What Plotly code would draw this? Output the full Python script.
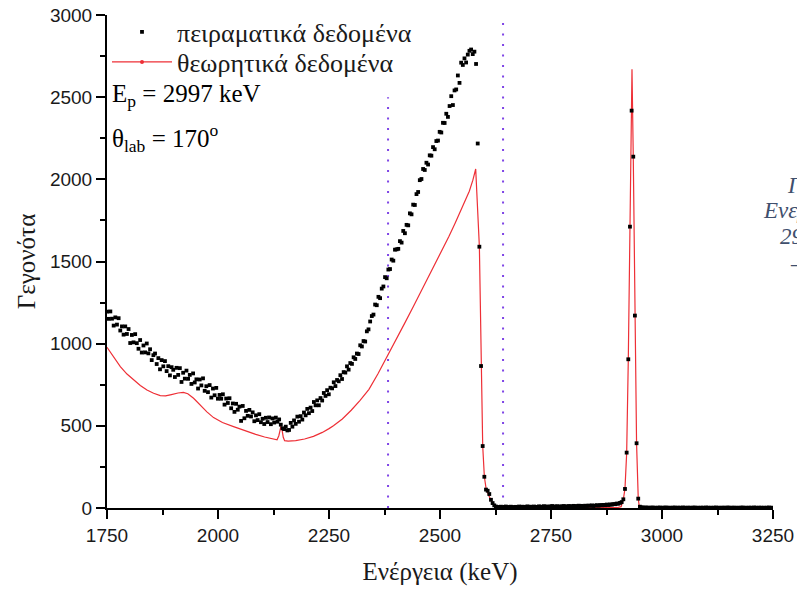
import plotly.graph_objects as go

# Measured spectrum: counts per channel, linear energy calibration
E0_KEV = 1750.1
KEV_PER_CHANNEL = 3.727

counts_exp = [
    1195, 1151, 1196, 1152, 1110, 1160, 1116, 1155, 1080, 1105,
    1055, 1105, 1059, 1089, 1004, 1053, 1008, 1058, 1003, 969,
    1022, 946, 989, 947, 1001, 941, 966, 900, 930, 940,
    876, 912, 844, 900, 862, 894, 833, 863, 807, 857,
    841, 797, 853, 810, 851, 767, 823, 787, 836, 786,
    810, 755, 819, 764, 783, 727, 782, 746, 789, 713,
    741, 705, 748, 672, 727, 686, 731, 665, 688, 665,
    692, 629, 666, 639, 668, 607, 636, 585, 634, 598,
    617, 530, 621, 546, 591, 561, 597, 557, 582, 528,
    564, 535, 571, 522, 543, 511, 549, 523, 551, 510,
    545, 520, 550, 525, 539, 507, 485, 480, 495, 472,
    475, 518, 495, 533, 512, 556, 525, 559, 538, 581,
    564, 603, 577, 611, 590, 645, 625, 655, 625, 669,
    654, 700, 682, 717, 692, 732, 728, 765, 742, 779,
    771, 808, 785, 827, 824, 862, 842, 882, 877, 917,
    907, 940, 937, 990, 983, 1016, 1013, 1075, 1087, 1135,
    1168, 1177, 1238, 1234, 1285, 1277, 1335, 1348, 1405, 1398,
    1451, 1454, 1512, 1505, 1572, 1574, 1577, 1624, 1615, 1686,
    1672, 1723, 1720, 1793, 1787, 1846, 1844, 1910, 1923, 1995,
    2002, 2063, 2057, 2101, 2090, 2146, 2144, 2196, 2183, 2233,
    2236, 2289, 2285, 2344, 2343, 2399, 2380, 2446, 2506, 2452,
    2541, 2547, 2632, 2587, 2710, 2696, 2736, 2711, 2759, 2782,
    2790, 2762, 2777, 2702,
    2218, 1590, 864, 377, 190, 112, 105, 85, 50, 30, 16, 9, 6,
    5, 8, 4, 7, 9, 6, 5, 8, 6, 4,
    7, 5, 9, 6, 8, 5, 7, 10, 6, 8,
    5, 9, 7, 6, 10, 8, 7, 11, 8, 9,
    7, 10, 12, 8, 9, 11, 7, 10, 9, 12,
    10, 8, 12, 11, 9, 13, 10, 12, 14, 11,
    13, 10, 14, 12, 15, 13, 16, 12, 15, 17,
    14, 18, 16, 19, 17, 21, 18, 22, 20, 24,
    23, 27, 26, 31, 36,
    53, 116, 337, 905, 1712, 2418, 2138, 1171, 394, 57, 8,
    4, 3, 2, 3, 2, 1, 3, 2, 2, 1,
    2, 3, 1, 2, 2, 3, 1, 2, 1, 2,
    3, 1, 2, 2, 1, 3, 2, 1, 2, 2,
    1, 2, 3, 1, 2, 1, 2, 2, 1, 3,
    2, 1, 2, 1, 2, 3, 1, 2, 1, 2,
    2, 1, 3, 2, 1, 2, 2, 1, 2, 1,
    2, 3, 1, 2, 1, 2, 2, 1, 3, 2,
    1, 2, 2, 1, 2, 1, 2, 3, 1, 2,
]
energy_exp = [E0_KEV + KEV_PER_CHANNEL * i for i in range(len(counts_exp))]

# Simulated spectrum
energy_theo = [
    1750, 1765, 1780, 1795, 1810, 1825, 1840, 1855, 1870, 1882,
    1895, 1910, 1922, 1932, 1945, 1960, 1975, 1990, 2010, 2035,
    2060, 2085, 2105, 2125, 2133, 2137, 2140, 2142, 2144, 2147,
    2150, 2158, 2175, 2195, 2215, 2235, 2250, 2260, 2280, 2300,
    2320, 2340, 2360, 2383, 2400, 2420, 2440, 2460, 2480, 2500,
    2520, 2534, 2545, 2556, 2566, 2574, 2580.4, 2588.7, 2592.5, 2596.2,
    2599.9, 2604, 2610, 2615, 2620, 2628, 2640, 2700, 2800, 2900,
    2908, 2912.9, 2916.6, 2920.4, 2924.1, 2927.8, 2932.4, 2935.3, 2939, 2942.7,
    2946.5, 2949, 2955, 3100, 3250,
]
counts_theo = [
    978, 915, 860, 815, 778, 745, 718, 698, 684, 682,
    690, 700, 703, 695, 668, 625, 585, 550, 520, 495,
    470, 448, 432, 418, 415, 440, 480, 500, 480, 430,
    410, 407, 410, 420, 436, 460, 483, 500, 542, 595,
    655, 722, 815, 930, 1018, 1122, 1226, 1331, 1437, 1543,
    1652, 1733, 1797, 1862, 1928, 1995, 2063, 1590, 864, 377,
    190, 115, 75, 45, 22, 8, 3, 2, 2, 3,
    8, 53, 116, 333, 905, 1712, 2670, 2138, 1171, 394,
    57, 6, 2, 1, 1,
]

# Integration window limits
window_energy = [2383, 2642]
window_top = [2500, 3000]

tick_x = [1750, 2000, 2250, 2500, 2750, 3000, 3250]
tick_y = [0, 500, 1000, 1500, 2000, 2500, 3000]

SERIF = "Liberation Serif"
SANS = "Liberation Sans"
RED = "#ee2f36"
VIOLET = "#7f45e6"

fig = go.Figure()

for xe, ytop in zip(window_energy, window_top):
    fig.add_trace(go.Scatter(
        x=[xe, xe], y=[0, ytop], mode="lines",
        line=dict(color=VIOLET, width=2, dash="2px,8.5px"),
        showlegend=False, hoverinfo="skip",
    ))

fig.add_trace(go.Scatter(
    x=energy_theo, y=counts_theo, mode="lines",
    line=dict(color=RED, width=1.2),
    showlegend=False,
))

fig.add_trace(go.Scatter(
    x=energy_exp, y=counts_exp, mode="markers",
    marker=dict(symbol="square", size=3.8, color="black"),
    name="πειραματικά δεδομένα", legend="legend",
))

# legend entry for the simulated curve (line with symbol)
fig.add_trace(go.Scatter(
    x=[None], y=[None], mode="lines+markers",
    line=dict(color=RED, width=1.2),
    marker=dict(symbol="circle", size=4, color=RED),
    name="θεωρητικά δεδομένα", legend="legend2",
))

L, R, T, B = 107, 24, 15, 86
W, H = 797, 594
PW, PH = W - L - R, H - T - B


def px(x):
    return (x - L) / PW


def py(y):
    return (H - B - y) / PH


annotations = [
    dict(text="E<sub>p</sub> = 2997 keV", x=px(110), y=py(96), xanchor="left",
         yanchor="middle", font=dict(family=SERIF, size=25, color="black")),
    dict(text="θ<sub>lab</sub> = 170<sup>o</sup>", x=px(110), y=py(138), xanchor="left",
         yanchor="middle", font=dict(family=SERIF, size=25, color="black")),
]
side_lines = [("Γράφημα 4.2", 785, 185), ("Ενεργειακό φάσμα", 761, 210),
              ("2997 keV", 778, 236), ("– 170°", 788, 263)]
for txt, x0, y0 in side_lines:
    annotations.append(dict(
        text=txt, x=px(x0), y=py(y0), xanchor="left", yanchor="middle",
        font=dict(family=SERIF, size=23, color="#3f4f6d", style="italic"),
    ))
for a in annotations:
    a.update(xref="paper", yref="paper", showarrow=False)

axis_common = dict(
    showline=True, linecolor="black", linewidth=2, mirror=False,
    showgrid=False, zeroline=False,
    ticks="outside", ticklen=9, tickwidth=2, tickcolor="black",
    tickfont=dict(family=SANS, size=19, color="#1a1a1a"),
    layer="below traces",
)

legend_common = dict(
    x=0.0, xanchor="left", yanchor="middle",
    font=dict(family=SERIF, size=26, color="#1a1a1a"),
    bgcolor="rgba(0,0,0,0)", itemwidth=60,
)

fig.update_layout(
    width=W, height=H,
    margin=dict(l=L, r=R, t=T, b=B, pad=0, autoexpand=False),
    paper_bgcolor="white", plot_bgcolor="white",
    xaxis=dict(
        range=[1750, 3250], tickvals=tick_x,
        minor=dict(dtick=125, ticks="outside", ticklen=5, tickwidth=2, tickcolor="black"),
        title=dict(text="Ενέργεια (keV)", font=dict(family=SERIF, size=25, color="#1a1a1a"),
                   standoff=18),
        **axis_common,
    ),
    yaxis=dict(
        range=[0, 3000], tickvals=tick_y,
        minor=dict(dtick=250, ticks="outside", ticklen=5, tickwidth=2, tickcolor="black"),
        title=dict(text="Γεγονότα", font=dict(family=SERIF, size=25, color="#1a1a1a"),
                   standoff=7),
        **axis_common,
    ),
    legend=dict(y=py(32), **legend_common),
    legend2=dict(y=py(62), **legend_common),
    annotations=annotations,
    showlegend=True,
)

fig.write_html("out.html")
